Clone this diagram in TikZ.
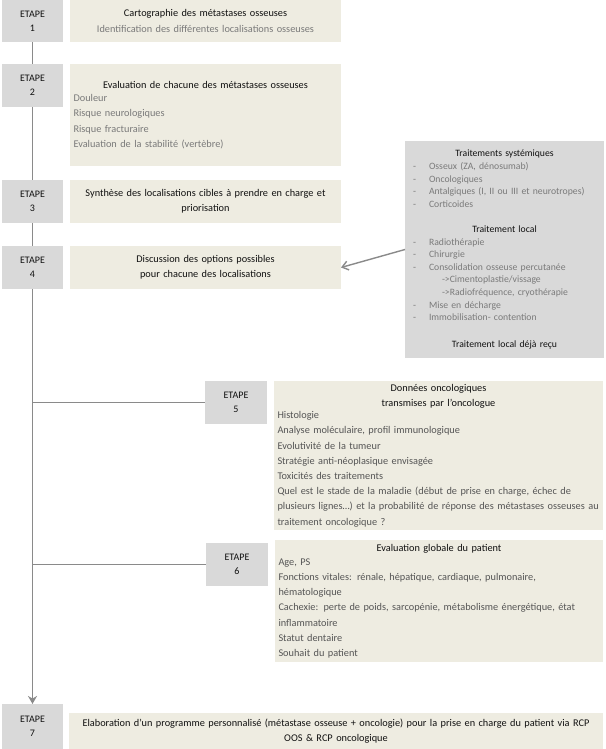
\documentclass[tikz,border=0pt]{standalone}
\usepackage{fontspec}
\setmainfont{Carlito}
\usetikzlibrary{arrows.meta,backgrounds}
\definecolor{boxgray}{HTML}{D9D9D9}
\definecolor{beigec}{HTML}{EEECE1}
\definecolor{linegray}{HTML}{8A8A8A}
\definecolor{txtdark}{HTML}{111111}
\definecolor{itemgray}{HTML}{7A7A7A}
\definecolor{itemdark}{HTML}{555555}
\newcommand{\dashitem}[1]{\makebox[16pt][l]{-}#1}
\newcommand{\subarrow}[1]{\hspace*{29pt}#1}
\begin{document}
\begin{tikzpicture}[x=1pt,y=-1pt,
  etape/.style={fill=boxgray, minimum width=61, minimum height=43, inner sep=0,
    anchor=north west, align=center, text=txtdark, font=\fontsize{10}{14}\selectfont},
  beige/.style={fill=beigec, anchor=north west, inner xsep=3.5, inner ysep=0,
    font=\fontsize{10.3}{15.2}\selectfont, text=txtdark},
  grayright/.style={fill=boxgray, anchor=north west, inner xsep=8, inner ysep=0,
    font=\fontsize{9.7}{12.6}\selectfont, text=txtdark},
  conn/.style={draw=linegray, line width=1.6pt},
  every node/.append style={outer sep=0}]
\useasboundingbox (0,0) rectangle (605,749);

% ETAPE boxes
\node[etape, minimum height=42] (e1) at (2,0) {ETAPE\\1};
\node[etape] (e2) at (2,64) {ETAPE\\2};
\node[etape] (e3) at (2,180) {ETAPE\\3};
\node[etape] (e4) at (2,246) {ETAPE\\4};
\node[etape, minimum width=62] (e5) at (205,381) {ETAPE\\5};
\node[etape, minimum width=62] (e6) at (206,543) {ETAPE\\6};
\node[etape, minimum height=45] (e7) at (2,704) {ETAPE\\7};

% beige boxes
\node[beige, text width=264, minimum height=42, align=center] (b1) at (70,0)
  {Cartographie des métastases osseuses\\\color{itemgray}Identification des différentes localisations osseuses};
\node[beige, text width=264, minimum height=102] (b2) at (70,64)
  {\centering Evaluation de chacune des métastases osseuses\par\vspace{-2pt}
   \raggedright\color{itemgray}Douleur\\Risque neurologiques\\Risque fracturaire\\Evaluation de la stabilité (vertèbre)\par};
\node[beige, text width=264, minimum height=43, align=center] (b3) at (70,180)
  {Synthèse des localisations cibles à prendre en charge et\\priorisation};
\node[beige, text width=264, minimum height=43, align=center] (b4) at (70,246)
  {Discussion des options possibles\\pour chacune des localisations};
\node[beige, text width=322, minimum height=149] (b5) at (274,381)
  {\centering Données oncologiques\\transmises par l’oncologue\par\vspace{-3pt}
   \raggedright\color{itemdark}Histologie\\Analyse moléculaire, profil immunologique\\Evolutivité de la tumeur\\Stratégie anti-néoplasique envisagée\\Toxicités des traitements\\\mbox{Quel est le stade de la maladie (début de prise en charge, échec de}\\\mbox{plusieurs lignes…) et la probabilité de réponse des métastases osseuses au}\\traitement oncologique ?\par};
\node[beige, text width=321, minimum height=122] (b6) at (275,540)
  {\centering Evaluation globale du patient\par\vspace{-1pt}
   \raggedright\color{itemdark}Age, PS\\\mbox{Fonctions vitales: rénale, hépatique, cardiaque, pulmonaire,}\\hématologique\\\mbox{Cachexie: perte de poids, sarcopénie, métabolisme énergétique, état}\\inflammatoire\\Statut dentaire\\Souhait du patient\par};
\node[beige, text width=527, minimum height=36, align=center] (b7) at (69,713)
  {\mbox{Elaboration d’un programme personnalisé (métastase osseuse + oncologie) pour la prise en charge du patient via RCP}\\OOS \& RCP oncologique};

% right gray box
\node[grayright, text width=183, minimum height=217] (tr) at (405,141)
  {\centering Traitements systémiques\par
   \raggedright\color{itemgray}\dashitem{Osseux (ZA, dénosumab)}\\\dashitem{Oncologiques}\\\mbox{\dashitem{Antalgiques (I, II ou III et neurotropes)}}\\\dashitem{Corticoides}\par
   \vspace{12.6pt}
   \centering\color{txtdark}Traitement local\par
   \raggedright\color{itemgray}\dashitem{Radiothérapie}\\\dashitem{Chirurgie}\\\dashitem{Consolidation osseuse percutanée}\\\subarrow{->Cimentoplastie/vissage}\\\mbox{\subarrow{->Radiofréquence, cryothérapie}}\\\dashitem{Mise en décharge}\\\dashitem{Immobilisation- contention}\par
   \vspace{14pt}
   \centering\color{txtdark}Traitement local déjà reçu\par};

% connectors
\begin{scope}[on background layer]
  \draw[conn, -{Stealth[length=8pt,width=9pt,inset=2.5pt]}] (e1.south) -- (e7.north);
  \draw[conn] (e1.south |- e5.west) -- (e5.west);
  \draw[conn] (e1.south |- e6.west) -- (e6.west);
\end{scope}
\draw[conn, line width=1.4pt, -{Straight Barb[length=6pt,width=9pt]}] (tr.west) -- (b4.east);
\end{tikzpicture}
\end{document}
